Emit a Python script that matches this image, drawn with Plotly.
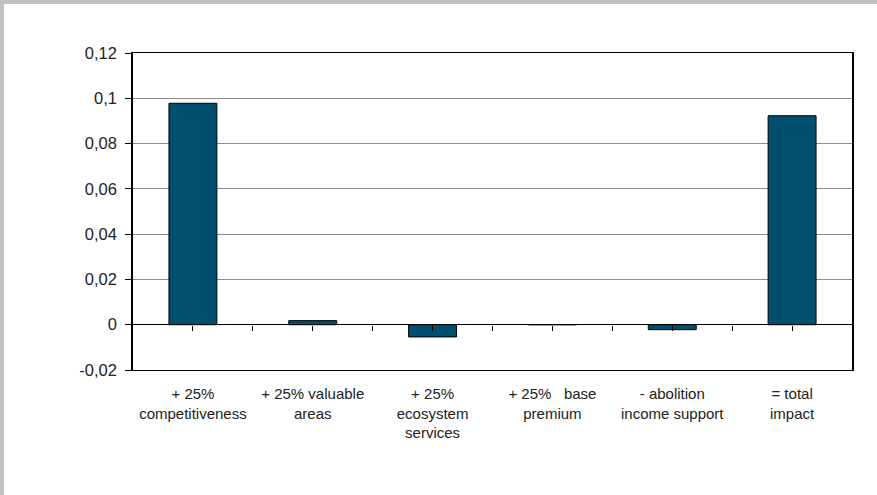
import plotly.graph_objects as go

categories = [
    "+ 25%<br>competitiveness",
    "+ 25% valuable<br>areas",
    "+ 25%<br>ecosystem<br>services",
    "+ 25%&nbsp;&nbsp;&nbsp;base<br>premium",
    "- abolition<br>income support",
    "= total<br>impact",
]
values = [0.0978, 0.0018, -0.0054, 0.0, -0.0022, 0.0923]
y_tick_vals = [-0.02, 0, 0.02, 0.04, 0.06, 0.08, 0.1, 0.12]
y_tick_text = ["-0,02", "0", "0,02", "0,04", "0,06", "0,08", "0,1", "0,12"]

W, H = 877, 495
L, R, T, B = 133, 25, 53, 125
pw, ph = W - L - R, H - T - B

FONT = "Liberation Sans, Arial, sans-serif"

fig = go.Figure()
fig.add_trace(go.Bar(
    x=list(range(len(categories))), y=values,
    marker=dict(color="#004f6e", line=dict(color="#000000", width=1)),
    showlegend=False, hoverinfo="y",
))
# invisible trace to carry the zero-line tick axis
fig.add_trace(go.Scatter(x=[-0.5, 5.5], y=[0, 0], xaxis="x2", mode="lines",
                         line=dict(width=0), showlegend=False, hoverinfo="skip"))

half_ticks = [i * 0.5 for i in range(0, 11)]
ymin, ymax = y_tick_vals[0], y_tick_vals[-1]

fig.update_layout(
    width=W, height=H,
    margin=dict(l=L, r=R, t=T, b=B, pad=0),
    paper_bgcolor="white", plot_bgcolor="white",
    bargap=0.6,
    font=dict(family=FONT, color="#222222"),
    xaxis=dict(
        range=[-0.5, 5.5],
        tickvals=list(range(len(categories))), ticktext=categories,
        ticks="", showline=True, linecolor="#000000", linewidth=1,
        mirror=True, showgrid=False, zeroline=False,
        tickfont=dict(size=15, color="#222222"),
        ticklabelstandoff=10,
    ),
    xaxis2=dict(
        overlaying="x", anchor="free", position=(0 - ymin) / (ymax - ymin),
        range=[-0.5, 5.5], tickvals=half_ticks, ticks="outside",
        ticklen=5, tickcolor="#000000", tickwidth=1,
        showticklabels=False, showline=False, showgrid=False, zeroline=False,
        side="bottom",
    ),
    yaxis=dict(
        range=[ymin, ymax], tickvals=y_tick_vals, ticktext=y_tick_text,
        ticks="outside", ticklen=6, tickcolor="#000000", tickwidth=1,
        showline=True, linecolor="#000000", linewidth=1.5, mirror=True,
        showgrid=True, gridcolor="#8c8c8c", gridwidth=1,
        zeroline=True, zerolinecolor="#000000", zerolinewidth=1,
        tickfont=dict(size=16.5, color="#222222"),
        ticklabelstandoff=5,
    ),
)

# outer grey frame (top and left edges visible)
fig.add_shape(type="rect", xref="paper", yref="paper",
              x0=(0 - L) / pw, x1=(4 - L) / pw, y0=(H - B - H) / ph, y1=(H - B) / ph + T / ph,
              fillcolor="#c0c0c0", line=dict(width=0), layer="below")
fig.add_shape(type="rect", xref="paper", yref="paper",
              x0=(0 - L) / pw, x1=(W - L) / pw, y0=(H - B - 4) / ph, y1=(H - B) / ph,
              fillcolor="#c0c0c0", line=dict(width=0), layer="below")

fig.write_html("out.html")
